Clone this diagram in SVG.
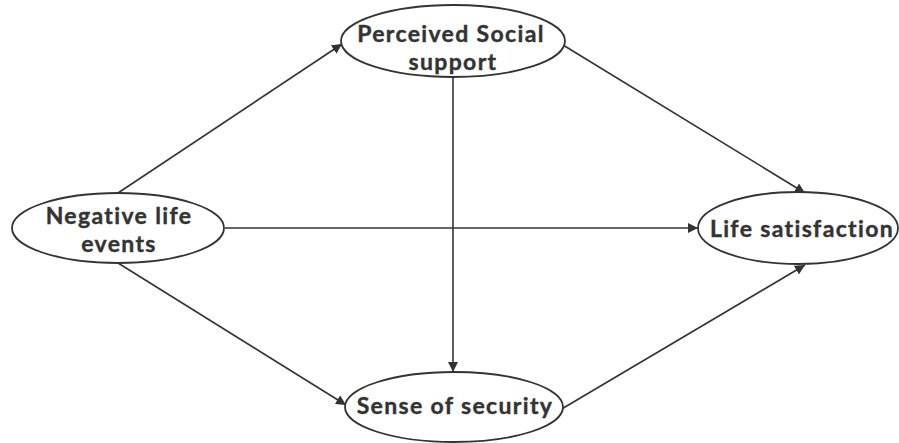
<svg xmlns="http://www.w3.org/2000/svg" width="899" height="443" viewBox="0 0 899 443">
<defs>
<marker id="ah" viewBox="0 0 10 10" refX="10" refY="5" markerWidth="10" markerHeight="10" markerUnits="userSpaceOnUse" orient="auto">
<path d="M0,0 L10,5 L0,10 z" fill="#333"/>
</marker>
<style>
.n{fill:#fff;stroke:#333;stroke-width:1.8}
.t{font-family:Lato,"Open Sans","Liberation Sans",sans-serif;font-weight:bold;font-size:23px;letter-spacing:1.35px;fill:#333;stroke:#333;stroke-width:0.4;text-anchor:middle}
.c{stroke:#333;stroke-width:1.6;fill:none;marker-end:url(#ah)}
</style>
</defs>
<rect width="899" height="443" fill="#fff"/>
<g id="connectors">
<line class="c" x1="118" y1="193" x2="342" y2="44"/>
<line class="c" x1="225" y1="228" x2="698" y2="228"/>
<line class="c" x1="118" y1="263" x2="346" y2="405"/>
<line class="c" x1="453" y1="77" x2="453" y2="372"/>
<line class="c" x1="563" y1="45" x2="805" y2="193"/>
<line class="c" x1="560" y1="410" x2="805" y2="265"/>
</g>
<g id="perceived">
<ellipse class="n" cx="453" cy="41" rx="112" ry="36"/>
<text class="t" x="451" y="42">Perceived Social</text>
<text class="t" x="453" y="70">support</text>
</g>
<g id="negative">
<ellipse class="n" cx="118" cy="228" rx="106" ry="35"/>
<text class="t" x="119" y="224">Negative life</text>
<text class="t" x="119" y="252">events</text>
</g>
<g id="life">
<ellipse class="n" cx="798" cy="228" rx="100" ry="36"/>
<text class="t" x="802" y="237">Life satisfaction</text>
</g>
<g id="security">
<ellipse class="n" cx="454" cy="407" rx="109" ry="35"/>
<text class="t" x="455" y="414">Sense of security</text>
</g>
</svg>
